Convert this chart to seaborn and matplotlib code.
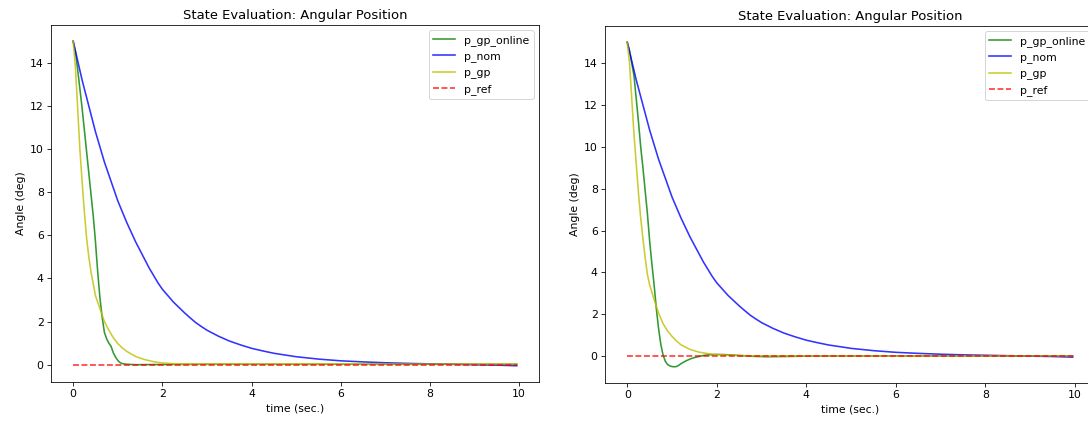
import matplotlib
matplotlib.use("Agg")
import matplotlib.pyplot as plt
import seaborn as sns

# ---- data ----
t_nom = [0, 0.1, 0.2, 0.3, 0.4, 0.5, 0.6, 0.7, 0.8, 0.9, 1.0, 1.1, 1.2, 1.3, 1.4, 1.5, 1.6,
         1.7, 1.8, 1.9, 2.0, 2.125, 2.25, 2.375, 2.5, 2.625, 2.75, 2.875, 3.0, 3.25, 3.5,
         3.75, 4.0, 4.25, 4.5, 4.75, 5.0, 5.5, 6.0, 6.5, 7.0, 7.5, 8.0, 8.5, 9.0, 9.5, 9.95]
p_nom = [15, 14.1, 13.2, 12.4, 11.6, 10.8, 10.1, 9.4, 8.8, 8.2, 7.6, 7.1, 6.6, 6.15, 5.7,
         5.3, 4.9, 4.5, 4.15, 3.8, 3.5, 3.2, 2.9, 2.65, 2.4, 2.17, 1.95, 1.77, 1.6, 1.33, 1.1,
         0.92, 0.76, 0.64, 0.53, 0.45, 0.37, 0.26, 0.18, 0.13, 0.09, 0.06, 0.04, 0.02,
         0.0, -0.02, -0.05]

# left panel
t_online_1 = [0, 0.05, 0.1, 0.15, 0.2, 0.25, 0.3, 0.35, 0.4, 0.45, 0.5, 0.55, 0.6, 0.65,
              0.7, 0.75, 0.8, 0.85, 0.9, 0.95, 1.0, 1.05, 1.1, 1.2, 1.4, 2.0, 3.0, 5.0, 7.0, 9.95]
p_gp_online_1 = [15, 14.5, 13.7, 12.8, 11.9, 10.9, 9.9, 8.9, 7.9, 6.9, 5.7, 4.3, 3.1, 2.2,
                 1.5, 1.2, 1.0, 0.85, 0.55, 0.35, 0.2, 0.1, 0.05, 0.02, 0.0, 0.01, 0.02, 0.02, 0.02, 0.02]
t_gp_1 = [0, 0.05, 0.1, 0.15, 0.2, 0.25, 0.3, 0.35, 0.4, 0.5, 0.6, 0.7, 0.8, 0.9, 1.0, 1.1,
          1.2, 1.4, 1.6, 1.8, 2.0, 2.3, 2.6, 3.0, 5.0, 7.0, 9.95]
p_gp_1 = [15, 13.8, 11.9, 10.0, 8.5, 7.1, 5.9, 5.0, 4.3, 3.2, 2.6, 2.0, 1.6, 1.25, 0.98, 0.78,
          0.62, 0.38, 0.24, 0.14, 0.08, 0.04, 0.03, 0.03, 0.03, 0.03, 0.03]

# right panel
t_online_2 = [0, 0.05, 0.1, 0.15, 0.2, 0.25, 0.3, 0.35, 0.4, 0.45, 0.5, 0.55, 0.6, 0.65, 0.7,
              0.75, 0.8, 0.85, 0.9, 0.95, 1.0, 1.05, 1.1, 1.15, 1.2, 1.3, 1.4, 1.5, 1.6, 1.7,
              1.8, 2.0, 2.2, 2.5, 2.8, 3.1, 3.5, 4.0, 5.0, 6.0, 8.0, 9.95]
p_gp_online_2 = [15, 14.6, 14.0, 13.4, 12.3, 11.2, 10.0, 9.0, 7.9, 6.8, 5.5, 4.4, 3.4, 2.25, 1.3,
                 0.55, 0.05, -0.25, -0.4, -0.47, -0.5, -0.51, -0.5, -0.44, -0.36, -0.24, -0.14,
                 -0.07, -0.02, 0.03, 0.06, 0.08, 0.07, 0.03, -0.01, -0.03, -0.02, 0.0, 0.01, 0.01,
                 0.01, 0.01]
t_gp_2 = [0, 0.05, 0.1, 0.15, 0.2, 0.25, 0.3, 0.35, 0.4, 0.45, 0.5, 0.6, 0.7, 0.8, 0.9, 1.0,
          1.1, 1.2, 1.4, 1.6, 1.8, 2.0, 2.3, 2.6, 3.0, 5.0, 7.0, 9.95]
p_gp_2 = [15, 14.0, 12.3, 10.6, 9.2, 7.8, 6.6, 5.6, 4.7, 3.9, 3.4, 2.7, 2.05, 1.55, 1.2, 0.94,
          0.72, 0.54, 0.32, 0.19, 0.12, 0.07, 0.04, 0.02, 0.01, 0.01, 0.01, 0.01]

t_ref = [0, 9.95]
p_ref = [0, 0]

labels = ["p_gp_online", "p_nom", "p_gp", "p_ref"]
title = "State Evaluation: Angular Position"
xlabel = "time (sec.)"
ylabel = "Angle (deg)"

plt.rcParams["font.size"] = 10.9
plt.rcParams["xtick.major.size"] = 3.8
plt.rcParams["ytick.major.size"] = 3.8

W, H = 1088, 421
fig = plt.figure(figsize=(W / 72, H / 72), dpi=72)
ax1 = fig.add_axes([51 / W, 39 / H, 488 / W, 357 / H])
ax2 = fig.add_axes([605 / W, 38 / H, 490 / W, 357 / H])

panels = [
    (ax1, t_online_1, p_gp_online_1, t_gp_1, p_gp_1),
    (ax2, t_online_2, p_gp_online_2, t_gp_2, p_gp_2),
]
for ax, to, po, tg, pg in panels:
    kw = dict(ax=ax, alpha=0.8, sort=False, estimator=None, linewidth=1.6)
    sns.lineplot(x=to, y=po, color="g", label=labels[0], **kw)
    sns.lineplot(x=t_nom, y=p_nom, color="b", label=labels[1], **kw)
    sns.lineplot(x=tg, y=pg, color="y", label=labels[2], **kw)
    sns.lineplot(x=t_ref, y=p_ref, color="r", linestyle="--", label=labels[3], **kw)
    ax.set_title(title)
    ax.set_xlabel(xlabel)
    ax.set_ylabel(ylabel)
    ax.legend(loc="upper right")

fig.savefig("out.png", dpi=72)
